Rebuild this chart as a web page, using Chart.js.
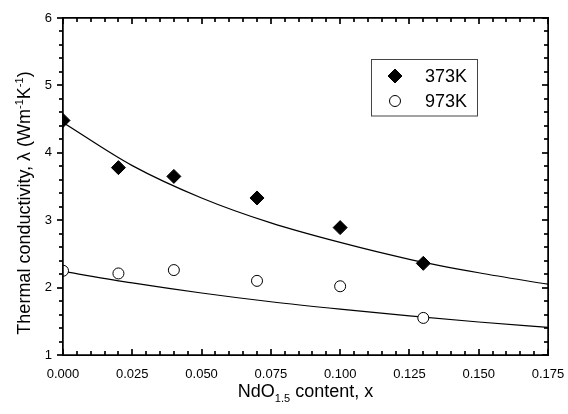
<!DOCTYPE html>
<html>
<head>
<meta charset="utf-8">
<script src="https://cdn.jsdelivr.net/npm/chart.js@4.4.0/dist/chart.umd.min.js"></script>
<style>
    html, body { margin: 0; padding: 0; background: #fff; }
    #wrap { position: relative; width: 568px; height: 414px; }
    #wrap canvas { position: absolute; left: 0; top: 0; }
    #frameLayer { pointer-events: none; }
</style>
</head>
<body>
<div id="wrap">
    <canvas id="conductivityChart" width="568" height="414"></canvas>
    <canvas id="frameLayer" width="568" height="414"></canvas>
</div>
<script>
// Measured points
const contentX = [0, 0.02, 0.04, 0.07, 0.10, 0.13];
const lambda373 = [4.48, 3.78, 3.65, 3.33, 2.89, 2.36];
const lambda973 = [2.25, 2.21, 2.26, 2.10, 2.02, 1.55];

// Fitted curves
const fitX = [0, 0.025, 0.05, 0.075, 0.1, 0.125, 0.15, 0.175];
const fit373 = [4.45, 3.81, 3.33, 2.96, 2.67, 2.42, 2.22, 2.05];
const fit973 = [2.24, 2.07, 1.92, 1.79, 1.68, 1.58, 1.49, 1.41];

const seriesNames = ["373K", "973K"];
const FONT = "'Liberation Sans', Arial, Helvetica, sans-serif";

function toPoints(xs, ys) {
    return xs.map((x, i) => ({ x: x, y: ys[i] }));
}

// Box and tick marks, drawn on a given context from the chart's scales
function drawFrame(c, chart) {
    const a = chart.chartArea;
    const xs = chart.scales.x;
    const ys = chart.scales.y;
    c.save();
    c.fillStyle = "#000";
    const L = Math.round(a.left), R = Math.round(a.right);
    const T = Math.round(a.top), B = Math.round(a.bottom);
    c.fillRect(L - 1, T - 1, R - L + 2, 1.5);
    c.fillRect(L - 1, B - 0.5, R - L + 2, 1.5);
    c.fillRect(L - 1, T - 1, 1.5, B - T + 2);
    c.fillRect(R - 0.5, T - 1, 1.5, B - T + 2);
    // x ticks: minor every 0.005, major every 0.025 (inward)
    for (let i = 0; i <= 35; i++) {
        const px = Math.round(xs.getPixelForValue(i * 0.005));
        const len = i % 5 === 0 ? 6 : 4;
        c.fillRect(px - 0.6, B - len, 1.2, len);
        c.fillRect(px - 0.6, T, 1.2, len);
    }
    // y ticks: minor every 0.2 (left outward, right inward)
    for (let i = 0; i <= 25; i++) {
        const py = Math.round(ys.getPixelForValue(1 + i * 0.2));
        const len = i % 5 === 0 ? 6 : 4;
        c.fillRect(L - len, py - 0.6, len, 1.2);
        c.fillRect(R - len, py - 0.6, len, 1.2);
    }
    c.restore();
}

// Legend box and axis titles
const axisDecorPlugin = {
    id: "axisDecor",
    afterDraw(chart) {
        const c = chart.ctx;
        const a = chart.chartArea;
        drawFrame(c, chart);
        c.save();

        // legend
        c.lineWidth = 1;
        c.strokeStyle = "#444";
        c.strokeRect(371.5, 59.5, 106, 56.5);
        const rows = [76, 101];
        [0, 1].forEach((i) => {
            const ds = chart.data.datasets[i];
            const r = ds.pointRadius;
            c.fillStyle = ds.backgroundColor;
            c.strokeStyle = "#000";
            c.beginPath();
            if (ds.pointStyle === "rectRot") {
                c.moveTo(395, rows[i] - r);
                c.lineTo(395 + r, rows[i]);
                c.lineTo(395, rows[i] + r);
                c.lineTo(395 - r, rows[i]);
                c.closePath();
            } else {
                c.arc(395, rows[i], r, 0, Math.PI * 2);
            }
            c.fill();
            c.stroke();
            c.fillStyle = "#000";
            c.font = "18px " + FONT;
            c.textBaseline = "middle";
            c.textAlign = "left";
            c.fillText(seriesNames[i], 425, rows[i] + 1);
        });

        // x axis title with subscript
        const big = "18px " + FONT;
        const small = "11px " + FONT;
        c.textBaseline = "alphabetic";
        c.font = big;
        const w1 = c.measureText("NdO").width;
        const w3 = c.measureText(" content, x").width;
        c.font = small;
        const w2 = c.measureText("1.5").width;
        const x0 = (a.left + a.right) / 2 - (w1 + w2 + w3) / 2;
        const yb = 397;
        c.font = big;
        c.fillText("NdO", x0, yb);
        c.font = small;
        c.fillText("1.5", x0 + w1, yb + 5);
        c.font = big;
        c.fillText(" content, x", x0 + w1 + w2, yb);

        // y axis title with superscripts
        const parts = [
            ["Thermal conductivity, \u03bb (Wm", big, 0],
            ["-1", small, -7],
            ["K", big, 0],
            ["-1", small, -7],
            [")", big, 0]
        ];
        let total = 0;
        parts.forEach((p) => { c.font = p[1]; total += c.measureText(p[0]).width; });
        c.translate(30, 203);
        c.rotate(-Math.PI / 2);
        let cx = -total / 2;
        parts.forEach((p) => {
            c.font = p[1];
            c.fillText(p[0], cx, p[2]);
            cx += c.measureText(p[0]).width;
        });
        c.restore();
    }
};

const chart = new Chart(document.getElementById("conductivityChart"), {
    type: "scatter",
    data: {
        datasets: [
            {
                label: seriesNames[0],
                data: toPoints(contentX, lambda373),
                showLine: false,
                pointStyle: "rectRot",
                pointRadius: 7,
                backgroundColor: "#000",
                borderColor: "#000",
                borderWidth: 1,
                order: 0
            },
            {
                label: seriesNames[1],
                data: toPoints(contentX, lambda973),
                showLine: false,
                pointStyle: "circle",
                pointRadius: 5.5,
                backgroundColor: "#fff",
                borderColor: "#000",
                borderWidth: 1,
                order: 0
            },
            {
                label: "fit 373K",
                data: toPoints(fitX, fit373),
                showLine: true,
                pointRadius: 0,
                borderColor: "#000",
                borderWidth: 1.2,
                cubicInterpolationMode: "monotone",
                order: 1
            },
            {
                label: "fit 973K",
                data: toPoints(fitX, fit973),
                showLine: true,
                pointRadius: 0,
                borderColor: "#000",
                borderWidth: 1.2,
                cubicInterpolationMode: "monotone",
                order: 1
            }
        ]
    },
    options: {
        responsive: false,
        animation: false,
        layout: { padding: { top: 18, right: 20, left: 0, bottom: 0 } },
        plugins: {
            legend: { display: false },
            tooltip: { enabled: false }
        },
        scales: {
            x: {
                type: "linear",
                min: 0,
                max: 0.175,
                grid: { display: false, drawTicks: false },
                border: { display: false },
                afterFit: function (s) {
                    s.height = 59;
                    s.paddingLeft = 0;
                    s.paddingRight = 0;
                },
                ticks: {
                    stepSize: 0.025,
                    autoSkip: false,
                    maxRotation: 0,
                    padding: 12,
                    color: "#000",
                    font: { family: FONT, size: 13 },
                    callback: function (v) { return v.toFixed(3); }
                }
            },
            y: {
                type: "linear",
                min: 1,
                max: 6,
                grid: { display: false, drawTicks: false },
                border: { display: false },
                afterFit: function (s) {
                    s.width = 63;
                    s.paddingTop = 0;
                    s.paddingBottom = 0;
                },
                ticks: {
                    stepSize: 1,
                    padding: 11,
                    color: "#000",
                    font: { family: FONT, size: 13 }
                }
            }
        }
    },
    plugins: [axisDecorPlugin]
});

// same box and ticks again on a layer above the chart canvas
drawFrame(document.getElementById("frameLayer").getContext("2d"), chart);
</script>
</body>
</html>
